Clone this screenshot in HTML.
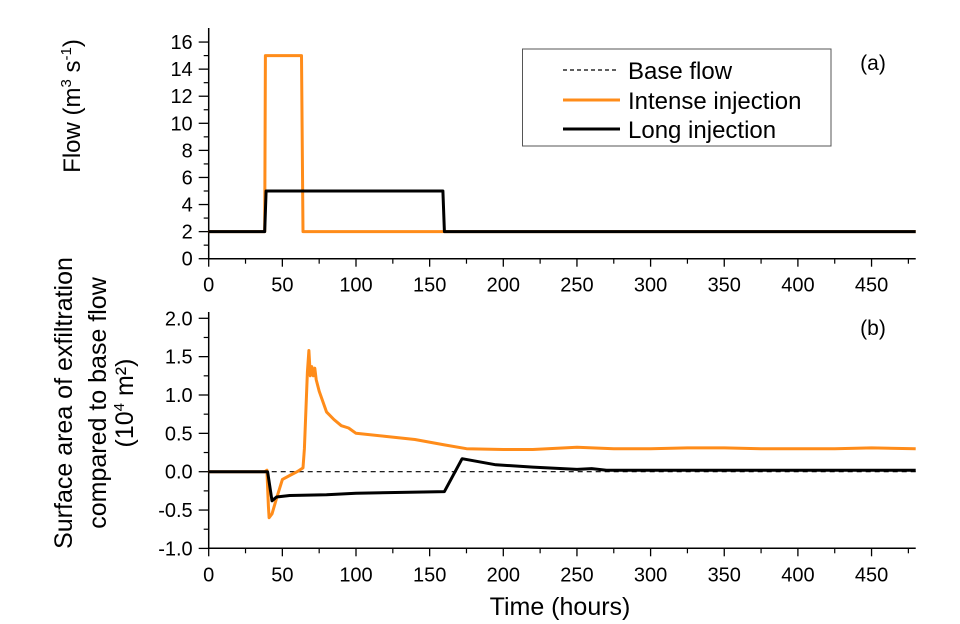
<!DOCTYPE html>
<html><head><meta charset="utf-8"><style>
html,body{margin:0;padding:0;background:#fff;}
svg{display:block;font-family:"Liberation Sans",Arial,sans-serif;}
</style></head><body>
<svg id="chart" width="960" height="624" viewBox="0 0 960 624">
<g id="panelA"></g>
<g id="panelB"></g>
<text x="80" y="106" font-size="24" text-anchor="middle" transform="rotate(-90 80 106)">Flow (m<tspan dy="-9" font-size="15">3</tspan><tspan dy="9"> s</tspan><tspan dy="-9" font-size="15">-1</tspan><tspan dy="9">)</tspan></text>
<g font-size="25" text-anchor="middle">
<text x="72" y="403" transform="rotate(-90 72 403)">Surface area of exfiltration</text>
<text x="106" y="403" transform="rotate(-90 106 403)">compared to base flow</text>
<text x="133" y="403" transform="rotate(-90 133 403)">(10<tspan dy="-9" font-size="15">4</tspan><tspan dy="9"> m²)</tspan></text>
</g>
<text x="560" y="615" font-size="25" text-anchor="middle">Time (hours)</text>
<text x="873" y="70" font-size="21" text-anchor="middle">(a)</text>
<text x="873" y="335" font-size="21" text-anchor="middle">(b)</text>
<g>
<rect x="522.5" y="49" width="308.5" height="97" fill="#fff" stroke="#555" stroke-width="1"/>
<line x1="563" y1="70" x2="617" y2="70" stroke="#000" stroke-width="1.2" stroke-dasharray="4,3"/>
<text x="628" y="79" font-size="24">Base flow</text>
<line x1="563" y1="100" x2="620" y2="100" stroke="#ff8c1a" stroke-width="3"/>
<text x="628" y="109" font-size="24">Intense injection</text>
<line x1="563" y1="129" x2="620" y2="129" stroke="#000" stroke-width="3"/>
<text x="628" y="138" font-size="24">Long injection</text>
</g>
</svg>
<script>
// Panel (a) data
const xTicks=[0,50,100,150,200,250,300,350,400,450];
const aYTicks=[0,2,4,6,8,10,12,14,16];
const aIntenseT=[0,38,38.5,63,64,480];
const aIntenseV=[2,2,15,15,2,2];
const aLongT=[0,38,39,159,160,480];
const aLongV=[2,2,5,5,2,2];
// Panel (b) data
const bYTicks=[-1.0,-0.5,0.0,0.5,1.0,1.5,2.0];
const bIntenseT=[0,38,39.5,40.5,41,43,46,50,55,60,64,65,67,68,69,70,71,72,73,75,80,85,90,95,100,120,140,160,175,200,220,250,275,300,325,350,375,400,425,450,480];
const bIntenseV=[0,0,0.02,-0.45,-0.6,-0.55,-0.35,-0.1,-0.05,0.0,0.05,0.3,1.3,1.58,1.25,1.37,1.25,1.35,1.2,1.05,0.78,0.68,0.6,0.57,0.5,0.46,0.42,0.35,0.3,0.29,0.29,0.32,0.3,0.3,0.31,0.31,0.3,0.3,0.3,0.31,0.3];
const bLongT=[0,39,40,43,46,55,80,100,160,172,195,220,250,260,270,300,350,400,450,480];
const bLongV=[0,0,0,-0.38,-0.33,-0.31,-0.3,-0.28,-0.26,0.17,0.09,0.06,0.03,0.04,0.02,0.02,0.02,0.02,0.02,0.02];
const bBaseT=[0,480];
const bBaseV=[0,0];

const NS='http://www.w3.org/2000/svg';
const X0=208.7, XK=1.473;
const xs=t=>X0+t*XK;
const aY=v=>258.7-v*13.54;
const bY=v=>471.7-v*76.7;
function mk(tag,attrs,parent){const e=document.createElementNS(NS,tag);for(const k in attrs)e.setAttribute(k,attrs[k]);parent.appendChild(e);return e;}
function axes(g,yf,yTicks,bottomY,topY,fmt,minorStep){
  const ax=mk('path',{d:`M${X0} ${topY}V${bottomY}H${xs(480)}`,stroke:'#000','stroke-width':1.5,fill:'none'},g);
  
  
  xTicks.forEach(t=>{
    const l=mk('line',{x1:xs(t),x2:xs(t),y1:bottomY,y2:bottomY+8,stroke:'#000','stroke-width':1.3},g);
    
    
    const m=mk('line',{x1:xs(t+25),x2:xs(t+25),y1:bottomY,y2:bottomY+5,stroke:'#000','stroke-width':1.2},g);
    
    
    const tx=mk('text',{x:xs(t),y:bottomY+33,'font-size':20,'text-anchor':'middle'},g);
    tx.textContent=t;
    
    
  });
  yTicks.forEach((v,i)=>{
    const l=mk('line',{x1:X0-10,x2:X0,y1:yf(v),y2:yf(v),stroke:'#000','stroke-width':1.3},g);
    
    
    if(i<yTicks.length-1){
      const m=mk('line',{x1:X0-5,x2:X0,y1:yf(v+minorStep),y2:yf(v+minorStep),stroke:'#000','stroke-width':1.2},g);
      
      
    }
    const tx=mk('text',{x:X0-16,y:yf(v)+7,'font-size':20,'text-anchor':'end'},g);
    tx.textContent=fmt(v);
    
    
  });
}
function drawLine(g,T,V,yf,color,w,dash,name){
  const d=T.map((t,i)=>(i?'L':'M')+xs(t).toFixed(1)+' '+yf(V[i]).toFixed(1)).join('');
  const p=mk('path',{d:d,stroke:color,'stroke-width':w,fill:'none','stroke-linejoin':'round'},g);
  if(dash)p.setAttribute('stroke-dasharray',dash);
  
  
}
const gA=document.getElementById('panelA'), gB=document.getElementById('panelB');
axes(gA,aY,aYTicks,258.7,28,v=>String(v),1);
drawLine(gA,aIntenseT,aIntenseV,aY,'#ff8c1a',3,null,'intense-injection-flow-line');
drawLine(gA,aLongT,aLongV,aY,'#000',3,null,'long-injection-flow-line');
axes(gB,bY,bYTicks,548.3,312,v=>v.toFixed(1),0.25);
drawLine(gB,bBaseT,bBaseV,bY,'#000',1.2,'5,4','base-flow-line');
drawLine(gB,bIntenseT,bIntenseV,bY,'#ff8c1a',3,null,'intense-injection-area-line');
drawLine(gB,bLongT,bLongV,bY,'#000',3,null,'long-injection-area-line');
</script>
</body></html>
